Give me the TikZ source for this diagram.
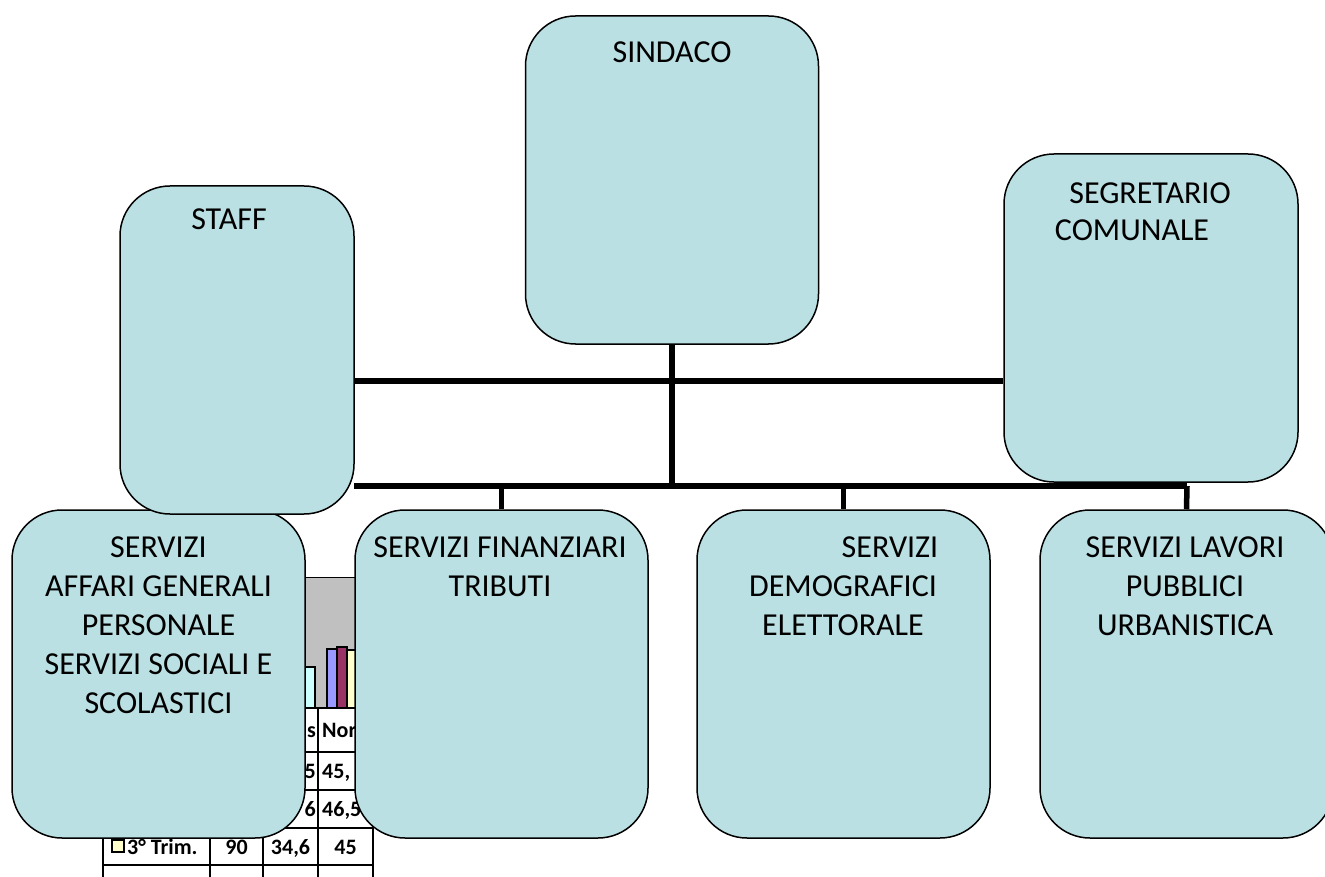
\documentclass[tikz,border=0pt]{standalone}
\usepackage{fontspec}
\setmainfont{Carlito}
\definecolor{boxfill}{RGB}{187,224,227}
\definecolor{chartgray}{RGB}{192,192,192}
\definecolor{barcyan}{RGB}{204,255,255}
\definecolor{barpurple}{RGB}{153,153,255}
\definecolor{barmaroon}{RGB}{153,51,102}
\definecolor{baryellow}{RGB}{255,255,204}
\begin{document}
\begin{tikzpicture}[x=1pt,y=-1pt,
  orgbox/.style={draw=black, line width=1.5pt, fill=boxfill, rounded corners=50pt,
    inner sep=0pt, minimum height=328pt},
  lbl/.style={font=\fontsize{32}{39}\selectfont, align=center, anchor=north, inner sep=0pt},
  wire/.style={line width=5.5pt},
  grid/.style={line width=2pt},
  bar/.style={draw=black, line width=1.6pt},
  tcell/.style={font=\fontsize{22}{24}\bfseries\selectfont, inner sep=0pt, anchor=base}]
\useasboundingbox (0,0) rectangle (1325,877);
\clip (0,0) rectangle (1325,877);
\fill[white] (0,0) rectangle (1325,877);
% --- chart fragment behind the boxes ---
\draw[line width=1pt, fill=chartgray] (230,577) rectangle (360,708);
\draw[bar, fill=barcyan] (300,667) rectangle (315,708);
\draw[bar, fill=barpurple] (327,649) rectangle (337,708);
\draw[bar, fill=barmaroon] (337,647) rectangle (347,708);
\draw[bar, fill=baryellow] (347,650) rectangle (358,708);
\fill[white] (100,708) rectangle (373,877);
\foreach \yy in {708,752,790,828,865} \draw[grid] (103,\yy) -- (373,\yy);
\foreach \xx in {103,210,263,318,373} \draw[grid] (\xx,708) -- (\xx,877);
\node[tcell, anchor=base east] (ts) at (316,737) {s};
\node[tcell, anchor=base west] (tnor) at (322,737) {Nor};
\node[tcell, anchor=base east] (t5) at (316,778) {5};
\node[tcell, anchor=base west] (t45a) at (322,778) {45,};
\node[tcell, anchor=base east] (t6) at (316,816) {6};
\node[tcell, anchor=base west] (t46) at (322,816) {46,5};
\draw[line width=1.3pt, fill=baryellow] (112,840) rectangle (124,852) coordinate (legsq);
\node[tcell, anchor=base west] (ttrim) at (127,854) {3° Trim.};
\node[tcell] (t90) at (236.5,854) {90};
\node[tcell] (t346) at (290.5,854) {34,6};
\node[tcell] (t45b) at (345.5,854) {45};
% --- boxes ---
\node[orgbox, minimum width=293pt] (aff) at (158.5,674) {};
\node[orgbox, minimum width=293pt] (fin) at (501.5,674) {};
\node[orgbox, minimum width=293pt] (dem) at (843.5,674) {};
\node[orgbox, minimum width=293pt] (lav) at (1186.5,674) {};
% --- connectors ---
\node[orgbox, minimum width=293pt] (sind) at (672,180) {};
\coordinate (jn) at (sind.south |- 0,486);
\coordinate (jr) at (1187,486);
\draw[wire] (sind.south) -- (jn);
\draw[wire] (354,486) -- (jr);
\draw[wire] (fin.north |- jn) -- (fin.north);
\draw[wire] (dem.north |- jn) -- (dem.north);
\draw[wire] (jr) -- (lav.north);
\node[orgbox, minimum width=234pt] (staff) at (237,350) {};
\node[orgbox, minimum width=294pt] (seg) at (1151,318) {};
\draw[wire] (staff.east |- 0,381) -- (seg.west |- 0,381);
% --- labels ---
\node[lbl] (lsind) at (672,42) {SINDACO};
\node[lbl] (lstaff) at (229,209) {STAFF};
\node[lbl] (lseg) at (1150,183) {SEGRETARIO};
\node[lbl] (lcom) at (1132,220) {COMUNALE};
\node[lbl] (laff) at (158.5,537) {SERVIZI\\AFFARI GENERALI\\PERSONALE\\SERVIZI SOCIALI E\\SCOLASTICI};
\node[lbl] (lfin) at (500,537) {SERVIZI FINANZIARI\\TRIBUTI};
\node[lbl] (ldem1) at (890,537) {SERVIZI};
\node[lbl] (ldem) at (843,576) {DEMOGRAFICI\\ELETTORALE};
\node[lbl] (llav) at (1185,537) {SERVIZI LAVORI\\PUBBLICI\\URBANISTICA};
\end{tikzpicture}
\end{document}
